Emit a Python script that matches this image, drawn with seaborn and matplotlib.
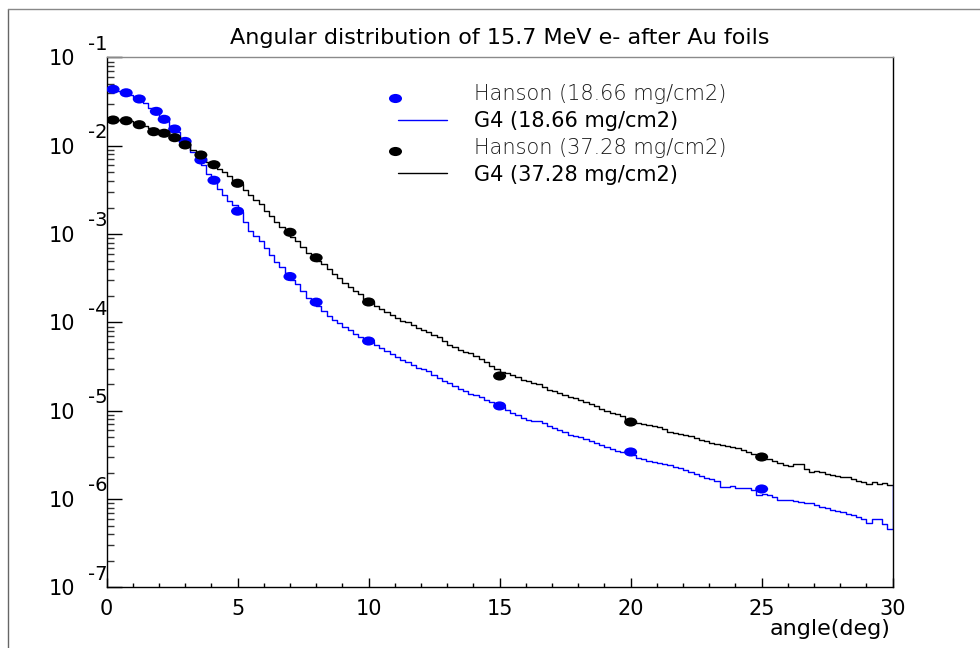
import numpy as np
import matplotlib
matplotlib.use("Agg")
import matplotlib.pyplot as plt
from matplotlib.path import Path
from matplotlib.lines import Line2D
from matplotlib.legend_handler import HandlerLine2D
from matplotlib.ticker import LogLocator, NullFormatter, MultipleLocator, FixedLocator, FixedFormatter
import seaborn as sns

# ---------------- data ----------------
title = "Angular distribution of 15.7 MeV e- after Au foils"
x_label = "angle(deg)"
label_hanson_thin = "Hanson (18.66 mg/cm2)"
label_g4_thin = "G4 (18.66 mg/cm2)"
label_hanson_thick = "Hanson (37.28 mg/cm2)"
label_g4_thick = "G4 (37.28 mg/cm2)"

x_ticks = [0, 5, 10, 15, 20, 25, 30]
y_exponents = [-7, -6, -5, -4, -3, -2, -1]

# Hanson measurements: angle (deg) and log10 of the value on the log axis
hanson_angle_thin = [0.25, 0.75, 1.25, 1.9, 2.2, 2.6, 3.0, 3.6, 4.1, 5, 7, 8, 10, 15, 20, 25]
hanson_log10_thin = [-1.36, -1.40, -1.47, -1.61, -1.70, -1.81, -1.95, -2.16, -2.39, -2.74,
                     -3.48, -3.77, -4.21, -4.945, -5.466, -5.885]
hanson_angle_thick = [0.25, 0.75, 1.25, 1.8, 2.2, 2.6, 3.0, 3.6, 4.1, 5, 7, 8, 10, 15, 20, 25]
hanson_log10_thick = [-1.708, -1.716, -1.761, -1.84, -1.858, -1.908, -1.99, -2.104, -2.214, -2.424,
                      -2.979, -3.267, -3.768, -4.606, -5.127, -5.523]

# G4 histograms: 150 bins of 0.2 deg from 0 to 30 deg, log10 of bin content
hist_bin_width = 0.2
g4_log10_thin = [
    -1.345, -1.36, -1.38, -1.39, -1.42, -1.45, -1.475, -1.52, -1.575, -1.625,
    -1.67, -1.72, -1.775, -1.84, -1.91, -1.99, -2.07, -2.15, -2.22, -2.32,
    -2.415, -2.485, -2.56, -2.62, -2.675, -2.75, -2.86, -2.96, -3.02, -3.08,
    -3.16, -3.235, -3.31, -3.375, -3.445, -3.515, -3.57, -3.64, -3.72, -3.775,
    -3.815, -3.865, -3.925, -3.975, -4.005, -4.05, -4.085, -4.125, -4.165, -4.19,
    -4.22, -4.25, -4.29, -4.32, -4.36, -4.39, -4.42, -4.45, -4.48, -4.51,
    -4.53, -4.55, -4.59, -4.63, -4.66, -4.69, -4.72, -4.75, -4.775, -4.805,
    -4.82, -4.845, -4.88, -4.90, -4.93, -4.96, -4.99, -5.03, -5.05, -5.08,
    -5.10, -5.11, -5.12, -5.14, -5.17, -5.19, -5.22, -5.245, -5.275, -5.285,
    -5.30, -5.315, -5.34, -5.37, -5.39, -5.41, -5.43, -5.45, -5.47, -5.48,
    -5.50, -5.53, -5.55, -5.57, -5.585, -5.59, -5.60, -5.61, -5.635, -5.65,
    -5.67, -5.69, -5.715, -5.74, -5.755, -5.77, -5.80, -5.86, -5.86, -5.85,
    -5.87, -5.875, -5.875, -5.90, -5.95, -5.94, -5.95, -5.98, -6.01, -6.01,
    -6.01, -6.02, -6.03, -6.04, -6.04, -6.07, -6.085, -6.105, -6.12, -6.13,
    -6.14, -6.17, -6.185, -6.20, -6.225, -6.27, -6.23, -6.23, -6.28, -6.34,
]
g4_log10_thin_edge = -5.84   # top of the closing vertical edge at 30 deg

g4_log10_thick = [
    -1.70, -1.705, -1.71, -1.714, -1.72, -1.74, -1.75, -1.775, -1.80, -1.82,
    -1.835, -1.855, -1.89, -1.935, -1.97, -2.00, -2.05, -2.10, -2.14, -2.18,
    -2.22, -2.26, -2.30, -2.34, -2.39, -2.43, -2.50, -2.56, -2.61, -2.66,
    -2.74, -2.80, -2.86, -2.92, -2.98, -3.03, -3.08, -3.14, -3.21, -3.25,
    -3.30, -3.34, -3.40, -3.45, -3.50, -3.55, -3.60, -3.64, -3.68, -3.73,
    -3.77, -3.81, -3.85, -3.88, -3.91, -3.95, -3.98, -4.00, -4.03, -4.06,
    -4.08, -4.11, -4.14, -4.17, -4.21, -4.25, -4.28, -4.31, -4.33, -4.35,
    -4.38, -4.41, -4.45, -4.49, -4.53, -4.56, -4.57, -4.59, -4.62, -4.65,
    -4.66, -4.68, -4.70, -4.73, -4.76, -4.78, -4.80, -4.82, -4.84, -4.86,
    -4.88, -4.90, -4.92, -4.95, -4.98, -5.00, -5.02, -5.04, -5.06, -5.10,
    -5.12, -5.14, -5.15, -5.16, -5.17, -5.18, -5.21, -5.24, -5.25, -5.26,
    -5.27, -5.29, -5.31, -5.33, -5.34, -5.36, -5.38, -5.39, -5.40, -5.41,
    -5.42, -5.44, -5.47, -5.49, -5.51, -5.54, -5.55, -5.57, -5.59, -5.61,
    -5.62, -5.60, -5.60, -5.66, -5.69, -5.68, -5.69, -5.72, -5.73, -5.74,
    -5.75, -5.75, -5.77, -5.80, -5.81, -5.83, -5.81, -5.83, -5.82, -5.84,
]

# ---------------- style ----------------
sns.set_style("white")
plt.rcParams["font.family"] = ["DejaVu Sans"]
plt.rcParams["text.color"] = "black"
plt.rcParams["axes.labelcolor"] = "black"
plt.rcParams["xtick.color"] = "black"
plt.rcParams["ytick.color"] = "black"

BLUE = "#0000ff"
BLACK = "#000000"

fig = plt.figure(figsize=(9.8, 6.48), dpi=100)
fig.patch.set_facecolor("white")
ax = fig.add_axes([0.1087, 0.0934, 0.8022, 0.8179])
ax.set_facecolor("white")

# elliptical marker like the ROOT full circle on the stretched canvas
_circ = Path.unit_circle()
ellipse = Path(_circ.vertices * np.array([1.0, 0.70]), _circ.codes)

# ---------------- histograms ----------------
n_bins = len(g4_log10_thin)
edges = np.arange(n_bins + 1) * hist_bin_width
thin_vals = 10.0 ** np.array(g4_log10_thin)
thick_vals = 10.0 ** np.array(g4_log10_thick)

sns.lineplot(x=edges, y=np.append(thin_vals, thin_vals[-1]), drawstyle="steps-post",
             color=BLUE, linewidth=1.0, estimator=None, sort=False, ax=ax, legend=False)
ax.plot([edges[-1], edges[-1]], [thin_vals[-1], 10.0 ** g4_log10_thin_edge],
        color=BLUE, linewidth=1.0, zorder=5)
sns.lineplot(x=edges, y=np.append(thick_vals, thick_vals[-1]), drawstyle="steps-post",
             color=BLACK, linewidth=1.0, estimator=None, sort=False, ax=ax, legend=False)

# ---------------- Hanson points ----------------
sns.scatterplot(x=hanson_angle_thin, y=10.0 ** np.array(hanson_log10_thin), marker=ellipse,
                s=88, color=BLUE, edgecolor="none", linewidth=0, ax=ax, legend=False, zorder=6)
sns.scatterplot(x=hanson_angle_thick, y=10.0 ** np.array(hanson_log10_thick), marker=ellipse,
                s=88, color=BLACK, edgecolor="none", linewidth=0, ax=ax, legend=False, zorder=7)

# ---------------- axes ----------------
ax.set_yscale("log")
ax.set_xlim(0, 30)
ax.set_ylim(1e-7, 1e-1)

ax.yaxis.set_major_locator(FixedLocator([10.0 ** e for e in y_exponents]))
ax.yaxis.set_major_formatter(FixedFormatter(["10"] * len(y_exponents)))
ax.yaxis.set_minor_locator(LogLocator(base=10, subs=np.arange(2, 10)))
ax.yaxis.set_minor_formatter(NullFormatter())
ax.xaxis.set_major_locator(FixedLocator(x_ticks))
ax.xaxis.set_major_formatter(FixedFormatter([str(t) for t in x_ticks]))
ax.xaxis.set_minor_locator(MultipleLocator(1))

ax.tick_params(axis="y", which="major", direction="in", length=10.8, width=1.0,
               pad=22.5, labelsize=15, left=True, right=False, colors="black")
ax.tick_params(axis="y", which="minor", direction="in", length=5.2, width=1.0,
               left=True, right=False, color="#333333")
ax.tick_params(axis="x", which="major", direction="in", length=6.5, width=1.0,
               pad=8.5, labelsize=15, bottom=True, top=False, colors="black")
ax.tick_params(axis="x", which="minor", direction="in", length=3.0, width=1.0,
               bottom=True, top=False)

for side in ["left", "bottom", "right"]:
    ax.spines[side].set_color("black")
    ax.spines[side].set_linewidth(1.0)
ax.spines["top"].set_color("#8a8a8a")
ax.spines["top"].set_linewidth(1.0)

# exponents of the y tick labels (ROOT style)
for e in y_exponents:
    ax.annotate(str(e), xy=(0, 10.0 ** e), xycoords=("axes fraction", "data"),
                xytext=(-13.3, 9.6), textcoords="offset points",
                ha="left", va="center", fontsize=14, color="black")

ax.set_xlabel(x_label, fontsize=16, color="black")
ax.xaxis.set_label_coords(0.997, -0.060)
ax.xaxis.label.set_ha("right")
ax.xaxis.label.set_va("top")

ax.set_title(title, fontsize=16, pad=10, color="black")


# ---------------- legend ----------------
class MarkerLeftLow(HandlerLine2D):
    """Legend marker placed at the left end of the handle and slightly low (ROOT TLegend look)."""
    def create_artists(self, legend, orig_handle, xdescent, ydescent, width, height,
                       fontsize, trans):
        xm = -xdescent - 2.2
        ym = (height - ydescent) / 2 - 3.6
        art = Line2D([xm], [ym])
        self.update_prop(art, orig_handle, legend)
        art.set_linestyle("None")
        art.set_transform(trans)
        return [art]


handles = [
    Line2D([], [], linestyle="none", marker=ellipse, markersize=9.4, color=BLUE, markeredgewidth=0),
    Line2D([], [], color=BLUE, linewidth=1.0),
    Line2D([], [], linestyle="none", marker=ellipse, markersize=9.4, color=BLACK, markeredgewidth=0),
    Line2D([], [], color=BLACK, linewidth=1.0),
]
labels = [label_hanson_thin, label_g4_thin, label_hanson_thick, label_g4_thick]
leg = ax.legend(handles, labels, loc="upper left", bbox_to_anchor=(398 / 980, (648 - 84) / 648),
                bbox_transform=fig.transFigure, frameon=False, fontsize=15,
                handlelength=2.35, handletextpad=1.3, labelspacing=0.33,
                borderpad=0, borderaxespad=0,
                handler_map={handles[0]: MarkerLeftLow(), handles[2]: MarkerLeftLow()})
for i, t in enumerate(leg.get_texts()):
    t.set_color("black")
    if i in (0, 2):
        t.set_fontweight("light")
        t.set_color("#1a1a1a")

# ---------------- canvas frame lines ----------------
fig.add_artist(Line2D([8 / 980, 8 / 980], [0, 1 - 9 / 648], transform=fig.transFigure,
                      color="#666666", linewidth=1.0))
fig.add_artist(Line2D([8 / 980, 1], [1 - 9 / 648, 1 - 9 / 648], transform=fig.transFigure,
                      color="#888888", linewidth=1.0))

fig.savefig("out.png", dpi=100, facecolor="white")
